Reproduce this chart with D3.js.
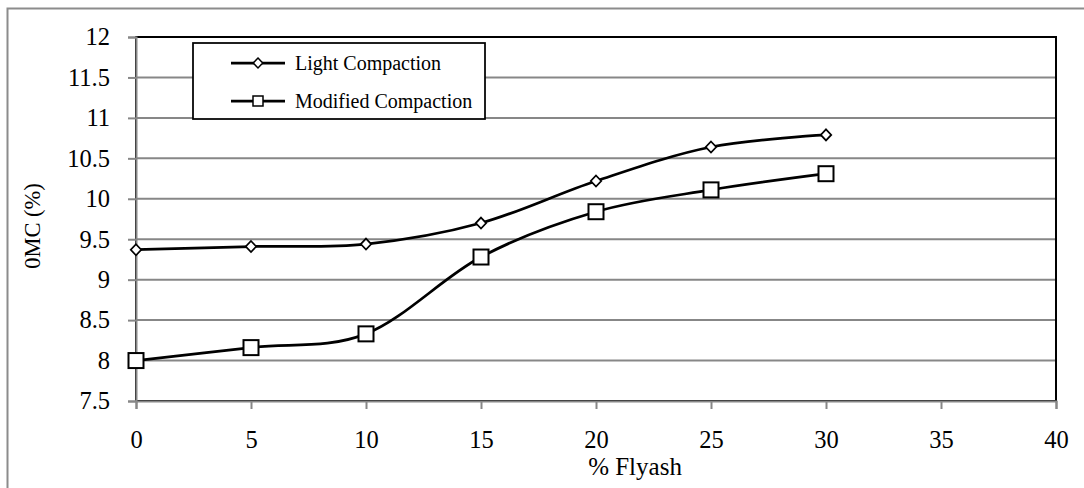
<!DOCTYPE html>
<html>
<head>
<meta charset="utf-8">
<script src="https://cdn.jsdelivr.net/npm/d3@7"></script>
<style>
  body { margin: 0; background: #fff; }
  text { font-family: "Liberation Serif", "Times New Roman", serif; fill: #000; }
</style>
</head>
<body>
<script>
// flyash content (%) and optimum moisture content (%)
const flyash = [0, 5, 10, 15, 20, 25, 30];
const lightOMC = [9.37, 9.41, 9.44, 9.70, 10.22, 10.64, 10.79];
const modifiedOMC = [8.00, 8.16, 8.33, 9.28, 9.84, 10.11, 10.31];
const xTicks = [0, 5, 10, 15, 20, 25, 30, 35, 40];
const yTicks = [7.5, 8, 8.5, 9, 9.5, 10, 10.5, 11, 11.5, 12];
const seriesNames = ['Light Compaction', 'Modified Compaction'];

const width = 1084;
const height = 488;
const plot = {left: 136, top: 37, right: 1056, bottom: 401};
const grey = '#878787';

const svg = d3.select('body').append('svg')
  .attr('width', width)
  .attr('height', height);

// outer chart frame (only left and top edges fall inside the picture)
svg.append('path')
  .attr('d', `M7.5,${height} V8.5 H${width}`)
  .attr('fill', 'none')
  .attr('stroke', '#8c8c8c')
  .attr('stroke-width', 2);

const x = d3.scaleLinear().domain([0, 40]).range([plot.left, plot.right]);
const y = d3.scaleLinear().domain([7.5, 12]).range([plot.bottom, plot.top]);

// gridlines
svg.append('g')
  .selectAll('line')
  .data(yTicks.slice(1))
  .enter()
  .append('line')
  .attr('x1', plot.left).attr('x2', plot.right)
  .attr('y1', d => y(d)).attr('y2', d => y(d))
  .attr('stroke', grey)
  .attr('stroke-width', 2);

// plot border
svg.append('rect')
  .attr('x', plot.left).attr('y', plot.top)
  .attr('width', plot.right - plot.left)
  .attr('height', plot.bottom - plot.top)
  .attr('fill', 'none')
  .attr('stroke', '#000')
  .attr('stroke-width', 2);

const xAxis = svg.append('g')
  .attr('transform', `translate(0,${plot.bottom})`)
  .call(d3.axisBottom(x).tickValues(xTicks).tickSize(8).tickPadding(22).tickFormat(d3.format('d')));

const yAxis = svg.append('g')
  .attr('transform', `translate(${plot.left},0)`)
  .call(d3.axisLeft(y).tickValues(yTicks).tickSize(8).tickPadding(18).tickFormat(d => d));

[xAxis, yAxis].forEach(a => {
  a.attr('font-family', null).attr('font-size', null);
  a.select('.domain').attr('stroke', grey).attr('stroke-width', 2);
  a.selectAll('.tick line').attr('stroke', grey).attr('stroke-width', 2);
  a.selectAll('.tick text')
    .style('font-family', '"Liberation Serif", "Times New Roman", serif')
    .style('font-size', '24.5px')
    .attr('fill', '#000');
});

// axis titles
svg.append('text')
  .attr('x', 635).attr('y', 475)
  .attr('text-anchor', 'middle')
  .style('font-size', '25px')
  .text('% Flyash');

svg.append('text')
  .attr('transform', 'translate(40,226) rotate(-90)')
  .attr('text-anchor', 'middle')
  .style('font-size', '22.5px')
  .text('0MC (%)');

// smoothed lines
const line = d3.line()
  .x((d, i) => x(flyash[i]))
  .y(d => y(d))
  .curve(d3.curveCardinal.tension(0));

const diamond = (cx, cy, r) => `M${cx},${cy - r}L${cx + r * 0.95},${cy}L${cx},${cy + r}L${cx - r * 0.95},${cy}Z`;

[lightOMC, modifiedOMC].forEach((vals, s) => {
  svg.append('path')
    .attr('d', line(vals))
    .attr('fill', 'none')
    .attr('stroke', '#000')
    .attr('stroke-width', 2.75);

  const g = svg.append('g');
  if (s === 0) {
    g.selectAll('path')
      .data(vals)
      .enter()
      .append('path')
      .attr('d', (d, i) => diamond(x(flyash[i]), y(d), 5.5))
      .attr('fill', '#fff')
      .attr('stroke', '#000')
      .attr('stroke-width', 1.75);
  } else {
    g.selectAll('rect')
      .data(vals)
      .enter()
      .append('rect')
      .attr('x', (d, i) => x(flyash[i]) - 7.5)
      .attr('y', d => y(d) - 7.5)
      .attr('width', 15).attr('height', 15)
      .attr('fill', '#fff')
      .attr('stroke', '#000')
      .attr('stroke-width', 2);
  }
});

// legend
const legend = svg.append('g');
legend.append('rect')
  .attr('x', 193).attr('y', 43)
  .attr('width', 292).attr('height', 76)
  .attr('fill', '#fff')
  .attr('stroke', '#000')
  .attr('stroke-width', 1.75);

seriesNames.forEach((name, s) => {
  const ly = s === 0 ? 63 : 101;
  legend.append('line')
    .attr('x1', 231).attr('x2', 285)
    .attr('y1', ly).attr('y2', ly)
    .attr('stroke', '#000')
    .attr('stroke-width', 2.75);
  if (s === 0) {
    legend.append('path')
      .attr('d', diamond(258, ly, 5))
      .attr('fill', '#fff').attr('stroke', '#000').attr('stroke-width', 1.5);
  } else {
    legend.append('rect')
      .attr('x', 253).attr('y', ly - 5)
      .attr('width', 10).attr('height', 10)
      .attr('fill', '#fff').attr('stroke', '#000').attr('stroke-width', 1.5);
  }
  legend.append('text')
    .attr('x', 295).attr('y', ly + 7)
    .style('font-size', '20px')
    .text(name);
});
</script>
</body>
</html>
